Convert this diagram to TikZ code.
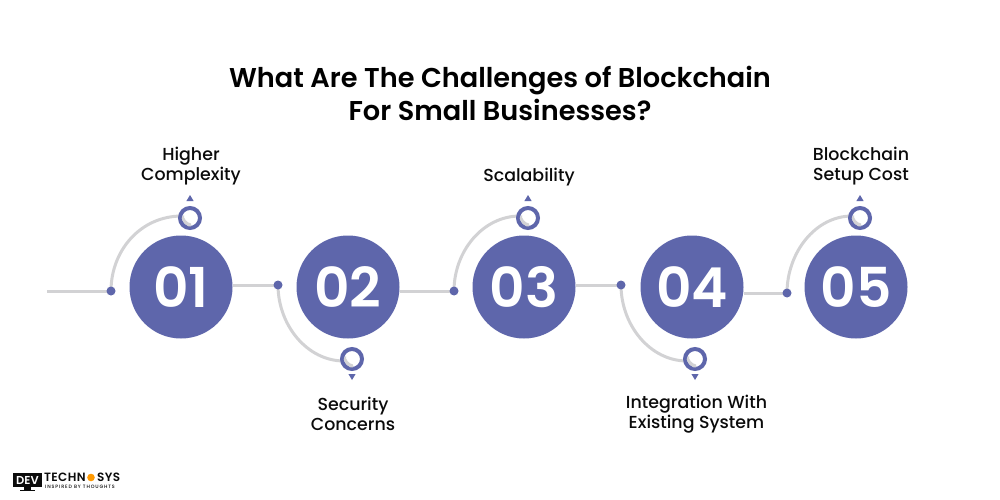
\documentclass[tikz,border=0pt]{standalone}
\usepackage{fontspec}
\setmainfont{Poppins}
\newfontfamily\logomain[LetterSpace=3]{Poppins SemiBold}
\newfontfamily\logotag[LetterSpace=18]{Poppins Medium}
\definecolor{bluec}{HTML}{5E66AB}
\definecolor{greyc}{HTML}{D2D2D4}
\definecolor{darkc}{HTML}{0B0B0B}
\usetikzlibrary{calc}
\tikzset{
  bignum/.style={circle,fill=bluec,minimum size=103pt,inner sep=0pt,text=white,font=\fontsize{55}{55}\selectfont\fontspec{Poppins SemiBold}},
  dotn/.style={circle,fill=bluec,minimum size=9pt,inner sep=0pt},
  ringn/.style={circle,draw=bluec,line width=4pt,fill=white,minimum size=20pt,inner sep=0pt},
  link/.style={draw=greyc,line width=3pt},
  lab/.style={align=center,text=darkc,font=\fontsize{17.4}{20}\selectfont\fontspec{Poppins Medium}},
  tri/.style={fill=bluec,draw=none},
  logotext/.style={anchor=west,text=darkc,inner sep=0pt,font=\logomain\fontsize{12}{12}\selectfont},
}
\begin{document}
\begin{tikzpicture}[x=1pt,y=-1pt]
\useasboundingbox (0,0) rectangle (1000,500);
\fill[white] (0,0) rectangle (1000,500);

\node[align=center,text=black,font=\fontsize{27.2}{33}\selectfont\fontspec{Poppins SemiBold}] (title) at (500,93.5) {What Are The Challenges of Blockchain\\For Small Businesses?};

\coordinate (start) at (47,291);
\node[bignum] (c1) at (181,287) {01};
\node[bignum] (c2) at (348,287) {02};
\node[bignum] (c3) at (524,287) {03};
\node[bignum] (c4) at (692,287) {04};
\node[bignum] (c5) at (856,287) {05};

\coordinate (d1) at (111,291);
\coordinate (d2) at (278,285);
\coordinate (d3) at (454,291);
\coordinate (d4) at (621,285);
\coordinate (d5) at (787,293);
\coordinate (r1) at (190,218);
\coordinate (r2) at (352,359);
\coordinate (r3) at (528,218);
\coordinate (r4) at (695,359);
\coordinate (r5) at (860,218);

% straight links
\draw[link] (start) -- (d1);
\draw[link] (c1.east |- d2) -- (d2);
\draw[link] (c2.east |- d3) -- (d3);
\draw[link] (c3.east |- d4) -- (d4);
\draw[link] (c4.east |- d5) -- (d5);
% arcs
\draw[link] (d1) .. controls ++(0,-40) and ($(r1)+(-50,-2)$) .. ($(r1)+(-8,-2)$);
\draw[link] (d2) .. controls ++(0,40) and ($(r2)+(-45,2)$) .. ($(r2)+(-8,2)$);
\draw[link] (d3) .. controls ++(0,-40) and ($(r3)+(-45,-2)$) .. ($(r3)+(-8,-2)$);
\draw[link] (d4) .. controls ++(0,40) and ($(r4)+(-45,2)$) .. ($(r4)+(-8,2)$);
\draw[link] (d5) .. controls ++(0,-40) and ($(r5)+(-45,-2)$) .. ($(r5)+(-8,-2)$);

\foreach \d/\n in {d1/a,d2/b,d3/c,d4/d,d5/e}{\node[dotn] (dot\n) at (\d) {};}

\foreach \r/\n in {r1/a,r2/b,r3/c,r4/d,r5/e}{
  \node[ringn] (ring\n) at (\r) {};
  \fill[greyc] ($(\r)+(-8.4,0)$) .. controls ++(0.5,4) and ++(-3,1.5) .. ($(\r)+(1,8.4)$) -- ($(\r)+(1,5.5)$) .. controls ++(-4,-0.5) and ++(-1,3) .. ($(\r)+(-6,-3)$) -- cycle;
}
\foreach \r in {r1,r3,r5}{\fill[tri] ($(\r)+(0,-23)$) -- ($(\r)+(3.6,-17)$) -- ($(\r)+(-3.6,-17)$) -- cycle;}
\foreach \r in {r2,r4}{\fill[tri] ($(\r)+(0,21)$) -- ($(\r)+(3.6,15)$) -- ($(\r)+(-3.6,15)$) -- cycle;}

\node[lab] (l1) at (191,166) {Higher\\Complexity};
\node[lab] (l2) at (353,414) {Security\\Concerns};
\node[lab] (l3) at (529,177) {Scalability};
\node[lab] (l4) at (696.5,414) {Integration With\\Existing System};
\node[lab] (l5) at (861,166) {Blockchain\\Setup Cost};

% logo
\fill[darkc] (13,473) rectangle (42,487);
\fill[darkc] (24,487) rectangle (31,490);
\fill[darkc] (20,490) rectangle (35,491);
\node[text=white,inner sep=0pt,font=\fontsize{11.5}{12}\selectfont\fontspec{Poppins SemiBold}] (logod) at (27.5,480.3) {DEV};
\node[logotext] (logot) at (44,477) {TECHN};
\fill[orange!80!yellow] (91,477.5) circle[radius=3.8pt];
\node[logotext] (logos) at (97,477) {SYS};
\node[anchor=west,text=darkc,inner sep=0pt,font=\logotag\fontsize{4.8}{5}\selectfont] (logou) at (45,487) {INSPIRED BY THOUGHTS};
\end{tikzpicture}
\end{document}
